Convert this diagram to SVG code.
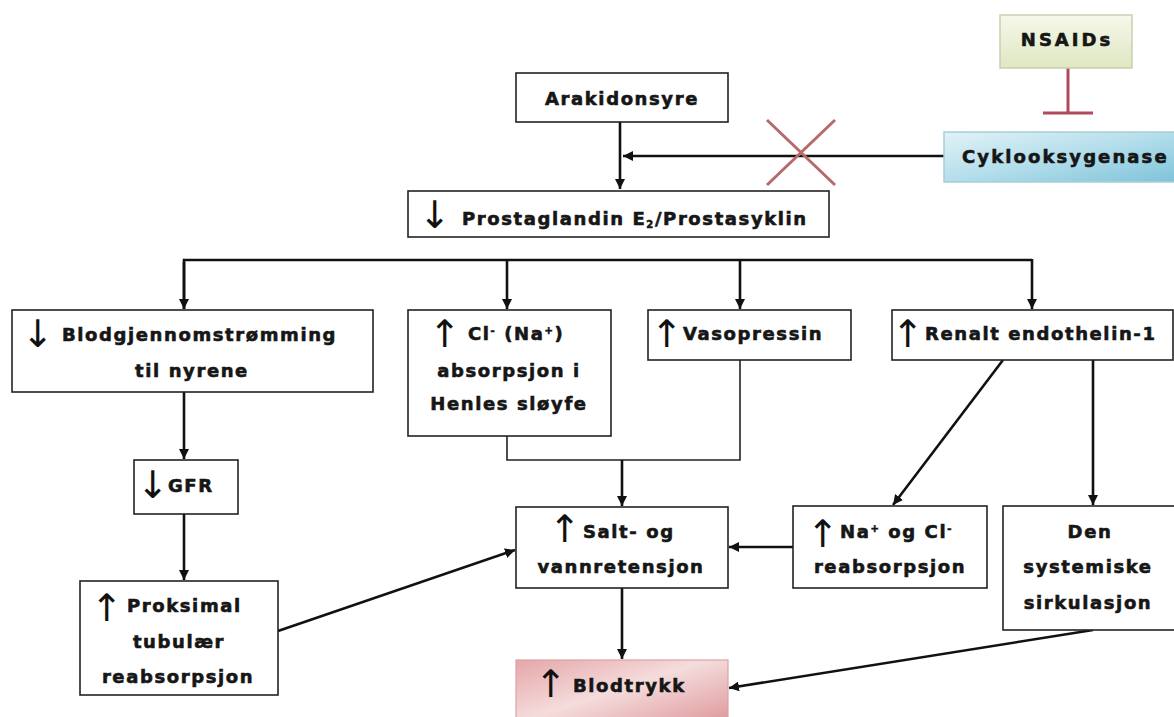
<svg xmlns="http://www.w3.org/2000/svg" width="1174" height="717" viewBox="0 0 1174 717">
<defs>
<style>
.box{fill:#fff;stroke:#222;stroke-width:1.6}
.t{font-family:"DejaVu Sans",sans-serif;font-weight:bold;font-size:18px;fill:#161616;stroke:#161616;stroke-width:0.6;letter-spacing:1.6px}
.m{text-anchor:middle}
.ar{font-family:"DejaVu Sans",sans-serif;font-size:38px;fill:#111;text-anchor:middle}
.c{fill:none;stroke:#111;stroke-width:2.6}
.thin{fill:none;stroke:#222;stroke-width:1.6}
.sup{font-size:10px}
</style>
<marker id="ah" viewBox="0 0 10 10" refX="10" refY="5" markerWidth="10" markerHeight="10" markerUnits="userSpaceOnUse" orient="auto">
<path d="M0,0 L10,5 L0,10 z" fill="#111"/>
</marker>
<linearGradient id="gN" x1="0" y1="0" x2="0" y2="1">
<stop offset="0" stop-color="#f6f8ea"/><stop offset="1" stop-color="#dfe7c2"/>
</linearGradient>
<linearGradient id="gC" x1="0" y1="0" x2="1" y2="1">
<stop offset="0" stop-color="#e2f2f7"/><stop offset="0.5" stop-color="#b3deeb"/><stop offset="1" stop-color="#7fc3da"/>
</linearGradient>
<linearGradient id="gB" x1="0" y1="0" x2="1" y2="1">
<stop offset="0" stop-color="#e5a6a9"/><stop offset="0.45" stop-color="#f5dcdc"/><stop offset="1" stop-color="#dc9195"/>
</linearGradient>
</defs>

<g id="connectors">
<path class="c" d="M620,122 V189" marker-end="url(#ah)"/>
<path class="c" d="M944,156 H623" marker-end="url(#ah)"/>
<path class="c" d="M184,309 V260 H1032" />
<path class="c" d="M184,262 V309" marker-end="url(#ah)"/>
<path class="c" d="M507,260 V309" marker-end="url(#ah)"/>
<path class="c" d="M740,260 V309" marker-end="url(#ah)"/>
<path class="c" d="M1032,259 V309" marker-end="url(#ah)"/>
<path class="c" d="M184,392 V459" marker-end="url(#ah)"/>
<path class="c" d="M184,514 V580" marker-end="url(#ah)"/>
<path class="c" d="M278,631 L515,550" marker-end="url(#ah)"/>
<path class="thin" d="M507,436 V460 H740 V360"/>
<path class="c" d="M622,460 V506" marker-end="url(#ah)"/>
<path class="c" d="M622,588 V659" marker-end="url(#ah)"/>
<path class="c" d="M793,547 H729" marker-end="url(#ah)"/>
<path class="c" d="M1003,360 L893,505" marker-end="url(#ah)"/>
<path class="c" d="M1093,360 V505" marker-end="url(#ah)"/>
<path class="c" d="M1093,630 L729,688" marker-end="url(#ah)"/>
<path d="M767,120 L835,185 M835,120 L767,185" fill="none" stroke="#b8696c" stroke-width="3"/>
<path d="M1068,68 V113 M1043,113 H1093" fill="none" stroke="#b04a5a" stroke-width="3"/>
</g>

<g id="nsaids">
<rect x="1000" y="15" width="132" height="53" fill="url(#gN)" stroke="#c9cfb2" stroke-width="1.5"/>
<text class="t m" x="1067" y="46" style="letter-spacing:3px">NSAIDs</text>
</g>

<g id="cyklooksygenase">
<rect x="944" y="132" width="232" height="50" fill="url(#gC)" stroke="#a9cdd8" stroke-width="1.5"/>
<text class="t" x="962" y="163" style="letter-spacing:2.1px">Cyklooksygenase</text>
</g>

<g id="arakidonsyre">
<rect class="box" x="516" y="73" width="212" height="49"/>
<text class="t m" x="622" y="105">Arakidonsyre</text>
</g>

<g id="prostaglandin">
<rect class="box" x="408" y="191" width="421" height="46"/>
<text class="ar" x="435" y="228">↓</text>
<text class="t" x="462" y="225">Prostaglandin E<tspan class="sup" dy="3">2</tspan><tspan dy="-3">/Prostasyklin</tspan></text>
</g>

<g id="blodgjennomstromming">
<rect class="box" x="12" y="310" width="361" height="82"/>
<text class="ar" x="38" y="347">↓</text>
<text class="t" x="62" y="341">Blodgjennomstrømming</text>
<text class="t m" x="192" y="377">til nyrene</text>
</g>

<g id="cl-absorpsjon">
<rect class="box" x="408" y="310" width="203" height="126"/>
<text class="ar" x="445" y="347">↑</text>
<text class="t" x="468" y="340">Cl<tspan class="sup" dy="-6">-</tspan><tspan dy="6"> (Na</tspan><tspan class="sup" dy="-6">+</tspan><tspan dy="6">)</tspan></text>
<text class="t m" x="509" y="377">absorpsjon i</text>
<text class="t m" x="509" y="410">Henles sløyfe</text>
</g>

<g id="vasopressin">
<rect class="box" x="648" y="310" width="203" height="50"/>
<text class="ar" x="667" y="347">↑</text>
<text class="t" x="683" y="340">Vasopressin</text>
</g>

<g id="endothelin">
<rect class="box" x="892" y="310" width="281" height="50"/>
<text class="ar" x="908" y="347">↑</text>
<text class="t" x="925" y="340">Renalt endothelin-1</text>
</g>

<g id="gfr">
<rect class="box" x="134" y="460" width="104" height="54"/>
<text class="ar" x="153" y="498">↓</text>
<text class="t" x="168" y="492">GFR</text>
</g>

<g id="proksimal">
<rect class="box" x="80" y="581" width="198" height="114"/>
<text class="ar" x="107" y="621">↑</text>
<text class="t" x="127" y="612">Proksimal</text>
<text class="t m" x="179" y="648">tubulær</text>
<text class="t m" x="178" y="683">reabsorpsjon</text>
</g>

<g id="salt">
<rect class="box" x="516" y="507" width="212" height="81"/>
<text class="ar" x="565" y="542">↑</text>
<text class="t" x="583" y="538">Salt- og</text>
<text class="t m" x="621" y="573">vannretensjon</text>
</g>

<g id="na-cl">
<rect class="box" x="793" y="506" width="194" height="82"/>
<text class="ar" x="823" y="547">↑</text>
<text class="t" x="840" y="538">Na<tspan class="sup" dy="-6">+</tspan><tspan dy="6"> og Cl</tspan><tspan class="sup" dy="-6">-</tspan></text>
<text class="t m" x="890" y="573">reabsorpsjon</text>
</g>

<g id="systemiske">
<rect class="box" x="1003" y="506" width="172" height="124"/>
<text class="t m" x="1090" y="538">Den</text>
<text class="t m" x="1088" y="573">systemiske</text>
<text class="t m" x="1088" y="609">sirkulasjon</text>
</g>

<g id="blodtrykk">
<rect x="516" y="660" width="212" height="70" fill="url(#gB)" stroke="#d9a3a5" stroke-width="1.2"/>
<text class="ar" x="551" y="697">↑</text>
<text class="t" x="573" y="692">Blodtrykk</text>
</g>
</svg>
